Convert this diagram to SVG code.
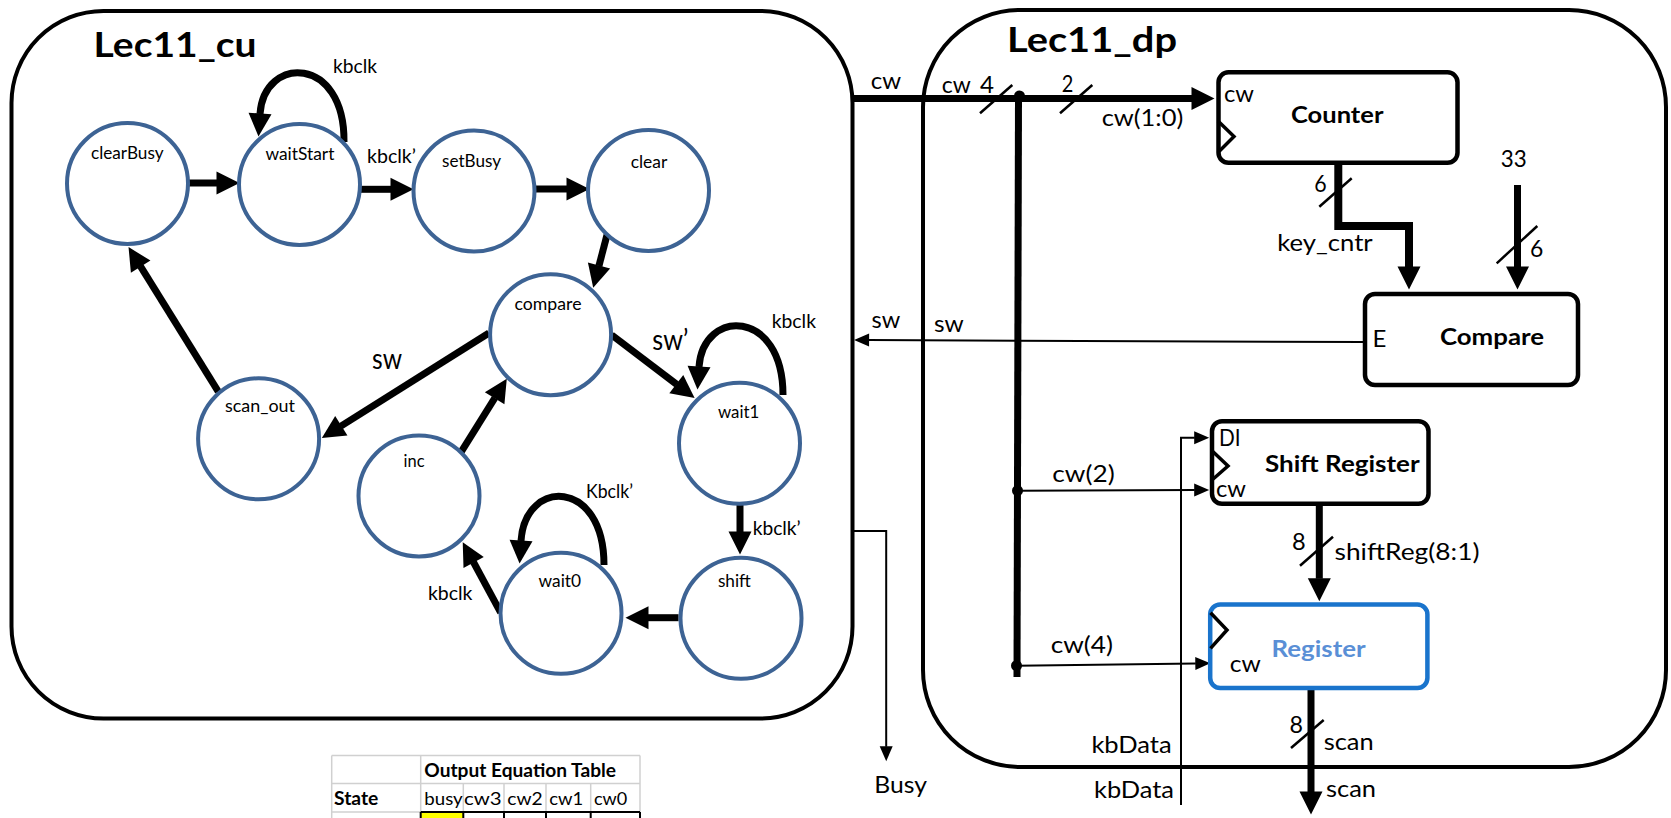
<svg xmlns="http://www.w3.org/2000/svg" width="1671" height="818" viewBox="0 0 1671 818">
<defs>
<style>
.frame{fill:none;stroke:#000;stroke-width:4}
.st circle{fill:#fff;stroke:#3d6394;stroke-width:4}
text{font-family:Lato,"Open Sans","Liberation Sans",sans-serif;fill:#000}
.sl{font-size:17.5px}
.tl{font-size:20px}
.big{font-size:29px}
.dl{font-size:24px}
.bl{font-size:23px;font-weight:bold}
.title{font-size:35px;font-weight:bold}
.tb{font-size:18px}
.thick{fill:none;stroke:#000;stroke-width:7}
.dthick{fill:none;stroke:#000;stroke-width:7}
.thin{fill:none;stroke:#000;stroke-width:2}
.blk{fill:#fff;stroke:#000;stroke-width:4.5}
.clk{fill:none;stroke:#000;stroke-width:3.5}
.slash{stroke:#000;stroke-width:2.5}
.grid{stroke:#d0d0d0;stroke-width:1.5}
</style>
<marker id="ah" markerUnits="userSpaceOnUse" markerWidth="24" markerHeight="24" refX="0.5" refY="11.5" orient="auto" overflow="visible">
<path d="M0,0 L23,11.5 L0,23 z" fill="#000"/>
</marker>
<marker id="as" markerUnits="userSpaceOnUse" markerWidth="16" markerHeight="14" refX="0.5" refY="6.5" orient="auto" overflow="visible">
<path d="M0,0 L15,6.5 L0,13 z" fill="#000"/>
</marker>
</defs>
<rect width="1671" height="818" fill="#fff"/>

<g id="Lec11_cu">
<rect class="frame" x="11.5" y="11" width="841" height="707.5" rx="92" ry="92"/>
<text class="title" x="93.6" y="57" textLength="163" lengthAdjust="spacingAndGlyphs">Lec11_cu</text>
</g>

<g id="Lec11_dp">
<rect class="frame" x="923" y="10" width="743" height="757" rx="97" ry="97"/>
<text class="title" x="1007" y="51.7" textLength="170" lengthAdjust="spacingAndGlyphs">Lec11_dp</text>
</g>

<g id="connectors">
<path class="thick" d="M189 183 L217 183" marker-end="url(#ah)"/>
<path class="thick" d="M361 189.3 L391 189.3" marker-end="url(#ah)"/>
<path class="thick" d="M535 189 L567 189" marker-end="url(#ah)"/>
<path class="thick" d="M607 235 L598.9 266" marker-end="url(#ah)"/>
<path class="thick" d="M489 333 L340.9 426.1" marker-end="url(#ah)"/>
<path class="thick" d="M218.3 391.7 L140.4 266.2" marker-end="url(#ah)"/>
<path class="thick" d="M460.7 452.7 L494.9 397.8" marker-end="url(#ah)"/>
<path class="thick" d="M611.7 335 L676.7 384.4" marker-end="url(#ah)"/>
<path class="thick" d="M740 505 L740 532" marker-end="url(#ah)"/>
<path class="thick" d="M678.6 617.7 L648 617.7" marker-end="url(#ah)"/>
<path class="thick" d="M500.7 612.7 L473.4 562" marker-end="url(#ah)"/>
<path class="thick" d="M344 142 C345 55, 264 55, 260 114" marker-end="url(#ah)"/>
<path class="thick" d="M783 395 C783 308, 703 308, 699 367" marker-end="url(#ah)"/>
<path class="thick" d="M604 565 C604 478, 525 478, 521 541" marker-end="url(#ah)"/>
<path class="dthick" d="M853 98.5 L1192 98.5" marker-end="url(#ah)"/>
<path class="dthick" d="M1018.5 96 L1017 677"/>
<path class="thin" d="M1017.5 490.7 L1194.7 490" marker-end="url(#as)"/>
<path class="thin" d="M1016.5 665.7 L1195.8 663.4" marker-end="url(#as)"/>
<path fill="none" stroke="#000" stroke-width="8" d="M1338.3 163 V226 H1409 V267" marker-end="url(#ah)"/>
<path class="dthick" d="M1517.5 185 V267" marker-end="url(#ah)"/>
<path class="dthick" d="M1319.3 506 V578.7" marker-end="url(#ah)"/>
<path class="dthick" d="M1311 690 V792" marker-end="url(#ah)"/>
<path class="thin" d="M1363 342 L868.6 340.1" marker-end="url(#as)"/>
<path class="thin" d="M853 531 H886.2 V746.7" marker-end="url(#as)"/>
<path class="thin" d="M1181 805 V437.7 H1194.7" marker-end="url(#as)"/>
<circle cx="1019.5" cy="96" r="5.5"/>
<circle cx="1017.5" cy="490.7" r="5.5"/>
<circle cx="1016.5" cy="665.7" r="5.5"/>
<line class="slash" x1="980" y1="113.3" x2="1012.3" y2="85"/>
<line class="slash" x1="1060" y1="113.3" x2="1092.3" y2="85"/>
<line class="slash" x1="1319.3" y1="206.7" x2="1351.7" y2="178.3"/>
<line class="slash" x1="1496.7" y1="263.3" x2="1537.3" y2="226"/>
<line class="slash" x1="1300" y1="565.7" x2="1333" y2="536.7"/>
<line class="slash" x1="1291" y1="748" x2="1323.7" y2="720"/>
</g>

<g id="edge-labels">
<text class="tl" x="333" y="73" textLength="44" lengthAdjust="spacingAndGlyphs">kbclk</text>
<text class="tl" x="367" y="163" textLength="49" lengthAdjust="spacingAndGlyphs">kbclk’</text>
<text class="big" x="372" y="369.3" textLength="30" lengthAdjust="spacingAndGlyphs">sw</text>
<text class="big" x="652.3" y="350" textLength="36" lengthAdjust="spacingAndGlyphs">sw’</text>
<text class="tl" x="771.7" y="328.3" textLength="44.3" lengthAdjust="spacingAndGlyphs">kbclk</text>
<text class="tl" x="586" y="498" textLength="47" lengthAdjust="spacingAndGlyphs">Kbclk’</text>
<text class="tl" x="752.7" y="535" textLength="48" lengthAdjust="spacingAndGlyphs">kbclk’</text>
<text class="tl" x="427.9" y="600" textLength="44.6" lengthAdjust="spacingAndGlyphs">kbclk</text>
<text class="dl" x="870.7" y="89.3" textLength="30.3" lengthAdjust="spacingAndGlyphs">cw</text>
<text class="dl" x="941.7" y="93.3" textLength="29" lengthAdjust="spacingAndGlyphs">cw</text>
<text class="dl" x="980" y="93.3" textLength="14" lengthAdjust="spacingAndGlyphs">4</text>
<text class="dl" x="1061.7" y="92.3" textLength="11.6" lengthAdjust="spacingAndGlyphs">2</text>
<text class="dl" x="1101.7" y="125.5" textLength="81.6" lengthAdjust="spacingAndGlyphs">cw(1:0)</text>
<text class="dl" x="1314.3" y="191.7" textLength="12.4" lengthAdjust="spacingAndGlyphs">6</text>
<text class="dl" x="1277.3" y="250.7" textLength="95.4" lengthAdjust="spacingAndGlyphs">key_cntr</text>
<text class="dl" x="1500.7" y="166.7" textLength="26" lengthAdjust="spacingAndGlyphs">33</text>
<text class="dl" x="1530" y="257.3" textLength="13.3" lengthAdjust="spacingAndGlyphs">6</text>
<text class="dl" x="871.6" y="328.3" textLength="28.7" lengthAdjust="spacingAndGlyphs">sw</text>
<text class="dl" x="934" y="331.7" textLength="29.8" lengthAdjust="spacingAndGlyphs">sw</text>
<text class="dl" x="1052.3" y="481.7" textLength="62.4" lengthAdjust="spacingAndGlyphs">cw(2)</text>
<text class="dl" x="1292" y="550" textLength="13.7" lengthAdjust="spacingAndGlyphs">8</text>
<text class="dl" x="1334.5" y="560" textLength="145" lengthAdjust="spacingAndGlyphs">shiftReg(8:1)</text>
<text class="dl" x="1050.7" y="653.3" textLength="62.3" lengthAdjust="spacingAndGlyphs">cw(4)</text>
<text class="dl" x="1289.5" y="733.3" textLength="13.5" lengthAdjust="spacingAndGlyphs">8</text>
<text class="dl" x="1323.7" y="750" textLength="50" lengthAdjust="spacingAndGlyphs">scan</text>
<text class="dl" x="1326" y="796.7" textLength="50" lengthAdjust="spacingAndGlyphs">scan</text>
<text class="dl" x="1091.4" y="753.3" textLength="80.3" lengthAdjust="spacingAndGlyphs">kbData</text>
<text class="dl" x="1094" y="798.3" textLength="80" lengthAdjust="spacingAndGlyphs">kbData</text>
<text class="dl" x="874.3" y="793.3" textLength="52.7" lengthAdjust="spacingAndGlyphs">Busy</text>
</g>

<g id="clearBusy" class="st"><circle cx="127.5" cy="183.5" r="60.5"/><text class="sl" x="91" y="159" textLength="72.5" lengthAdjust="spacingAndGlyphs">clearBusy</text></g>
<g id="waitStart" class="st"><circle cx="299.5" cy="184.5" r="60.5"/><text class="sl" x="265.4" y="160" textLength="69" lengthAdjust="spacingAndGlyphs">waitStart</text></g>
<g id="setBusy" class="st"><circle cx="474" cy="191" r="60.5"/><text class="sl" x="442" y="166.7" textLength="59" lengthAdjust="spacingAndGlyphs">setBusy</text></g>
<g id="clear" class="st"><circle cx="648.5" cy="190.5" r="60.5"/><text class="sl" x="630.7" y="168" textLength="36.6" lengthAdjust="spacingAndGlyphs">clear</text></g>
<g id="compare" class="st"><circle cx="550.6" cy="334.7" r="60.5"/><text class="sl" x="514.5" y="310" textLength="67" lengthAdjust="spacingAndGlyphs">compare</text></g>
<g id="scan_out" class="st"><circle cx="258.6" cy="438.8" r="60.5"/><text class="sl" x="225" y="412" textLength="70" lengthAdjust="spacingAndGlyphs">scan_out</text></g>
<g id="wait1" class="st"><circle cx="739.5" cy="443.3" r="60.5"/><text class="sl" x="718" y="418.3" textLength="41.3" lengthAdjust="spacingAndGlyphs">wait1</text></g>
<g id="inc" class="st"><circle cx="419" cy="496" r="60.5"/><text class="sl" x="403.6" y="466.7" textLength="21" lengthAdjust="spacingAndGlyphs">inc</text></g>
<g id="wait0" class="st"><circle cx="561" cy="613.3" r="60.5"/><text class="sl" x="538.6" y="587.3" textLength="42.5" lengthAdjust="spacingAndGlyphs">wait0</text></g>
<g id="shift" class="st"><circle cx="741" cy="618.3" r="60.5"/><text class="sl" x="717.9" y="587.3" textLength="33" lengthAdjust="spacingAndGlyphs">shift</text></g>

<g id="Counter">
<rect class="blk" x="1218.5" y="72.3" width="239" height="90.5" rx="10"/>
<polyline class="clk" points="1218,121 1234,136.5 1218,152.5"/>
<text class="dl" x="1224" y="101.7" textLength="30" lengthAdjust="spacingAndGlyphs">cw</text>
<text class="bl" x="1291" y="123.3" textLength="92.4" lengthAdjust="spacingAndGlyphs">Counter</text>
</g>
<g id="Compare">
<rect class="blk" x="1365" y="294" width="213" height="91" rx="10"/>
<text class="dl" x="1372.5" y="346.7">E</text>
<text class="bl" x="1440" y="345" textLength="104" lengthAdjust="spacingAndGlyphs">Compare</text>
</g>
<g id="ShiftRegister">
<rect class="blk" x="1212" y="421.2" width="216.5" height="82.6" rx="10"/>
<polyline class="clk" points="1212,450.7 1228,466 1212,480"/>
<text class="dl" x="1219" y="446" textLength="21.6" lengthAdjust="spacingAndGlyphs">DI</text>
<text class="bl" x="1265" y="471.7" textLength="154.7" lengthAdjust="spacingAndGlyphs">Shift Register</text>
<text class="dl" x="1216" y="496.7" textLength="30" lengthAdjust="spacingAndGlyphs">cw</text>
</g>
<g id="Register">
<rect x="1210.2" y="604.5" width="217.2" height="83.5" rx="10" fill="#fff" stroke="#1a74cc" stroke-width="4.5"/>
<polyline class="clk" points="1210.5,612.7 1227,630 1210.5,648.3"/>
<text class="bl" x="1271.6" y="656.7" textLength="94" lengthAdjust="spacingAndGlyphs" style="fill:#5a8fd6">Register</text>
<text class="dl" x="1229.8" y="671.7" textLength="31" lengthAdjust="spacingAndGlyphs">cw</text>
</g>

<g id="output-table">
<rect x="420.7" y="812" width="42.6" height="6" fill="#ffff00"/>
<g class="grid">
<line x1="331.7" y1="755.5" x2="640" y2="755.5"/>
<line x1="331.7" y1="783.5" x2="640" y2="783.5"/>
<line x1="331.7" y1="812" x2="420.7" y2="812"/>
<line x1="331.7" y1="755.5" x2="331.7" y2="818"/>
<line x1="420.7" y1="755.5" x2="420.7" y2="812"/>
<line x1="640" y1="755.5" x2="640" y2="812"/>
<line x1="463.3" y1="783.5" x2="463.3" y2="812"/>
<line x1="504" y1="783.5" x2="504" y2="812"/>
<line x1="546" y1="783.5" x2="546" y2="812"/>
<line x1="590.7" y1="783.5" x2="590.7" y2="812"/>
</g>
<g stroke="#000" stroke-width="2">
<line x1="420.7" y1="812" x2="640" y2="812"/>
<line x1="420.7" y1="812" x2="420.7" y2="818"/>
<line x1="463.3" y1="812" x2="463.3" y2="818"/>
<line x1="504" y1="812" x2="504" y2="818"/>
<line x1="546" y1="812" x2="546" y2="818"/>
<line x1="590.7" y1="812" x2="590.7" y2="818"/>
<line x1="640" y1="812" x2="640" y2="818"/>
</g>
<text class="tb" font-weight="bold" x="424.3" y="777.3" textLength="191.7" lengthAdjust="spacingAndGlyphs">Output Equation Table</text>
<text class="tb" font-weight="bold" x="334" y="805" textLength="44.3" lengthAdjust="spacingAndGlyphs">State</text>
<text class="tb" x="424.3" y="805" textLength="38.4" lengthAdjust="spacingAndGlyphs">busy</text>
<text class="tb" x="464" y="805" textLength="37.7" lengthAdjust="spacingAndGlyphs">cw3</text>
<text class="tb" x="507.3" y="805" textLength="35.4" lengthAdjust="spacingAndGlyphs">cw2</text>
<text class="tb" x="549.3" y="805" textLength="34" lengthAdjust="spacingAndGlyphs">cw1</text>
<text class="tb" x="594" y="805" textLength="33.3" lengthAdjust="spacingAndGlyphs">cw0</text>
</g>
</svg>
